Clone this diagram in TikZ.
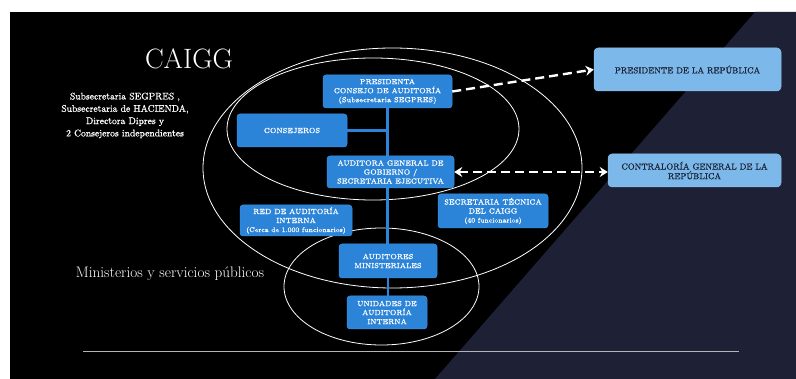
\documentclass[tikz,border=0pt]{standalone}
\usepackage{fontspec}
\usetikzlibrary{arrows.meta}
% slightly heavier cut of the text face for small labels
\newfontfamily\heavyface{Latin Modern Roman}[FakeBold=0.9]
\definecolor{slideblack}{HTML}{000000}
\definecolor{slidenavy}{HTML}{1E2035}
\definecolor{boxblue}{HTML}{2B84D8}
\definecolor{boxedge}{HTML}{3A90E0}
\definecolor{lightbox}{HTML}{7DB8EA}
\definecolor{lightedge}{HTML}{8CC2EE}
\definecolor{darktext}{HTML}{1A2438}
\definecolor{rulegray}{HTML}{B4B4B4}
\pgfdeclarelayer{bg}
\pgfdeclarelayer{lines}
\pgfsetlayers{bg,lines,main}
\tikzset{
  orgbox/.style={draw=boxedge, line width=0.5pt, fill=boxblue, rounded corners=3pt,
    text=white, align=center, inner sep=1pt,
    font=\heavyface\fontsize{7.4}{9}\selectfont},
  extbox/.style={draw=lightedge, line width=0.5pt, fill=lightbox, rounded corners=4pt,
    text=darktext, align=center, inner sep=1pt,
    font=\heavyface\fontsize{8.6}{9.6}\selectfont},
  ring/.style={draw=white, line width=0.8pt},
  stem/.style={draw=boxblue, line width=2.2pt},
  dasharrow/.style={draw=white, line width=2.4pt, dash pattern=on 9pt off 5pt,
    -{Stealth[length=8pt,width=10pt]}},
  dashboth/.style={draw=white, line width=2.4pt, dash pattern=on 9pt off 5pt,
    {Stealth[length=8pt,width=10pt]}-{Stealth[length=8pt,width=10pt]}}
}
\begin{document}
\begin{tikzpicture}[x=1pt,y=-1pt]
\useasboundingbox (0,0) rectangle (796,379);

% slide background with the navy diagonal panel
\begin{pgfonlayer}{bg}
  \fill[white] (0,0) rectangle (796,379);
  \fill[slideblack] (10,12) rectangle (796,379);
  \fill[slidenavy] (755,12) -- (796,12) -- (796,379) -- (435,379) -- cycle;
  \draw[rulegray, line width=1pt] (83,352) -- (739,352);
\end{pgfonlayer}

% headings
\node[text=white, font=\fontsize{28}{30}\selectfont] (title) at (189,58.5) {CAIGG};
\node[text=white, align=center, font=\heavyface\fontsize{9.6}{12.3}\selectfont] (members) at (125,115.5)
  {Subsecretaria SEGPRES ,\\Subsecretaria de HACIENDA,\\Directora Dipres y\\2 Consejeros independientes};
\node[text=white, font=\fontsize{15.2}{17}\selectfont] (minis) at (170,273.5) {Ministerios y servicios públicos};

% organisation boxes
\node[orgbox, minimum width=129pt, minimum height=33pt] (pres) at (387.5,91.5)
  {PRESIDENTA\\CONSEJO DE AUDITORÍA\\(Subsecretaria SEGPRES)};
\node[orgbox, minimum width=110pt, minimum height=33pt] (cons) at (292,130.5) {CONSEJEROS};
\node[orgbox, minimum width=127pt, minimum height=32pt] (aud) at (390.5,172)
  {AUDITORA GENERAL DE\\GOBIERNO /\\SECRETARIA EJECUTIVA};
\node[orgbox, minimum width=112pt, minimum height=31pt] (red) at (296,220.5)
  {RED DE AUDITORÍA\\INTERNA\\{\fontsize{6.8}{8.4}\selectfont(Cerca de 1.000 funcionarios)}};
\node[orgbox, minimum width=110pt, minimum height=34pt] (sec) at (493,211)
  {SECRETARIA TÉCNICA\\DEL CAIGG\\{\fontsize{6.8}{8.4}\selectfont(40 funcionarios)}};
\node[orgbox, minimum width=98pt, minimum height=34pt] (audmin) at (388,261)
  {AUDITORES\\MINISTERIALES};
\node[orgbox, minimum width=80pt, minimum height=33pt] (unid) at (387,312.5)
  {UNIDADES DE\\AUDITORÍA\\INTERNA};

% external institutions
\node[extbox, minimum width=187pt, minimum height=43pt] (prep) at (687.5,69.5)
  {PRESIDENTE DE LA REPÚBLICA};
\node[extbox, minimum width=173pt, minimum height=33pt] (contra) at (694.5,170.5)
  {CONTRALORÍA GENERAL DE LA\\REPÚBLICA};

% scope rings and reporting line, behind the boxes
\begin{pgfonlayer}{lines}
  \draw[ring] (392.5,168) ellipse [x radius=189.5pt, y radius=120pt];
  \draw[ring] (373,129) ellipse [x radius=146pt, y radius=71pt];
  \draw[ring] (381.5,286.5) ellipse [x radius=97.5pt, y radius=58.5pt];
  \draw[stem] (pres.south) -- (pres.south |- audmin.north);
  \draw[stem] (audmin.south) -- (audmin.south |- unid.north);
  \draw[stem] (cons.east) -- (cons.east -| pres.south);
\end{pgfonlayer}

% relations with the external institutions
\draw[dasharrow] (pres.east) -- (prep.west);
\draw[dashboth] (aud.east) -- (aud.east -| contra.west);
\end{tikzpicture}
\end{document}
